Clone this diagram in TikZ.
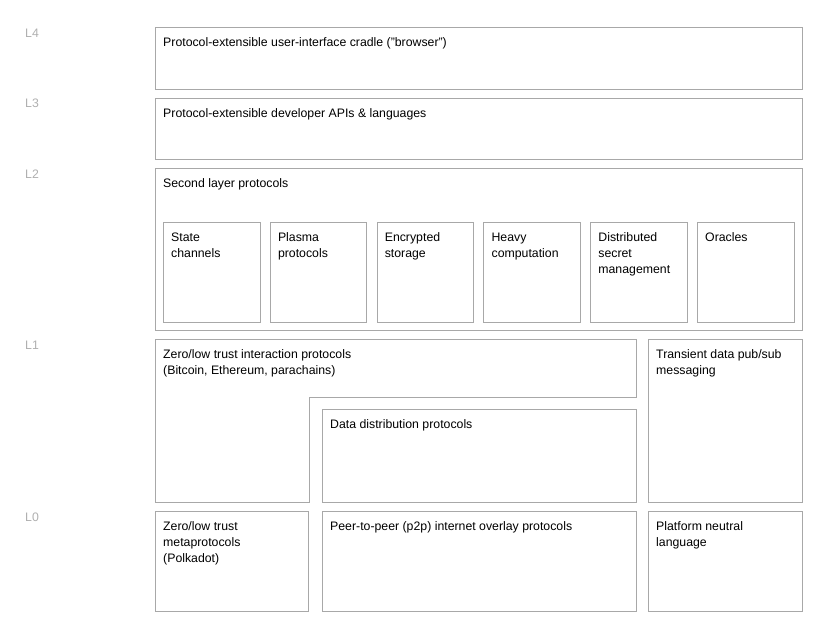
\documentclass[tikz,border=0pt]{standalone}
\usepackage{fontspec}
\setmainfont{Liberation Sans}
\usetikzlibrary{positioning}
\definecolor{edgegray}{RGB}{168,168,168}
\definecolor{tiergray}{RGB}{175,175,175}

\begin{document}
\begin{tikzpicture}[x=1pt, y=-1pt, font=\fontsize{12.3}{16}\selectfont,
  box/.style={draw=edgegray, line width=0.9pt, anchor=north west, inner sep=0pt},
  cell/.style={box, minimum width=96.5pt, minimum height=100pt},
  txt/.style={anchor=north west, align=left, inner sep=0pt},
  tier/.style={anchor=base west, inner sep=0pt, text=tiergray}]
\useasboundingbox (0,0) rectangle (819,625);

% L4 and L3
\node[box, minimum width=647pt, minimum height=62pt] (ui) at (155,27) {};
\node[txt, below right=10.5pt and 8pt of ui.north west] (uit)
  {Protocol-extensible user-interface cradle ("browser")};
\node[box, minimum width=647pt, minimum height=61pt] (api) at (155,98) {};
\node[txt, below right=10.5pt and 8pt of api.north west] (apit)
  {Protocol-extensible developer APIs \& languages};

% L2
\node[box, minimum width=647pt, minimum height=162pt] (second) at (155,168) {};
\node[txt, below right=10.5pt and 8pt of second.north west] (secondt)
  {Second layer protocols};
\foreach \name/\label [count=\i from 0] in {state/State\\channels, plasma/Plasma\\protocols,
    enc/Encrypted\\storage, heavy/Heavy\\computation,
    secret/Distributed\\secret\\management, oracle/Oracles} {
  \node[cell] (\name) at (163+106.8*\i,222) {};
  \node[txt, below right=10.5pt and 8pt of \name.north west] (\name t) {\label};
}

% L1
\draw[edgegray, line width=0.9pt] (155,339) coordinate (zero) -- (636,339) -- (636,397)
  -- (309,397) -- (309,502) -- (155,502) -- cycle;
\node[txt, below right=10.5pt and 8pt of zero] (zerot)
  {Zero/low trust interaction protocols\\(Bitcoin, Ethereum, parachains)};
\node[box, minimum width=314pt, minimum height=93pt] (dist) at (322,409) {};
\node[txt, below right=10.5pt and 8pt of dist.north west] (distt)
  {Data distribution protocols};
\node[box, minimum width=154pt, minimum height=163pt] (pubsub) at (648,339) {};
\node[txt, below right=10.5pt and 8pt of pubsub.north west] (pubsubt)
  {Transient data pub/sub\\messaging};

% L0
\node[box, minimum width=153pt, minimum height=100pt] (meta) at (155,511) {};
\node[txt, below right=10.5pt and 8pt of meta.north west] (metat)
  {Zero/low trust\\metaprotocols\\(Polkadot)};
\node[box, minimum width=314pt, minimum height=100pt] (ptp) at (322,511) {};
\node[txt, below right=10.5pt and 8pt of ptp.north west] (ptpt)
  {Peer-to-peer (p2p) internet overlay protocols};
\node[box, minimum width=154pt, minimum height=100pt] (lang) at (648,511) {};
\node[txt, below right=10.5pt and 8pt of lang.north west] (langt)
  {Platform neutral\\language};

% tier labels
\node[tier] (t4) at (25,37.5) {L4};
\node[tier] (t3) at (25,107.5) {L3};
\node[tier] (t2) at (25,178.5) {L2};
\node[tier] (t1) at (25,349.5) {L1};
\node[tier] (t0) at (25,521.5) {L0};
\end{tikzpicture}
\end{document}
